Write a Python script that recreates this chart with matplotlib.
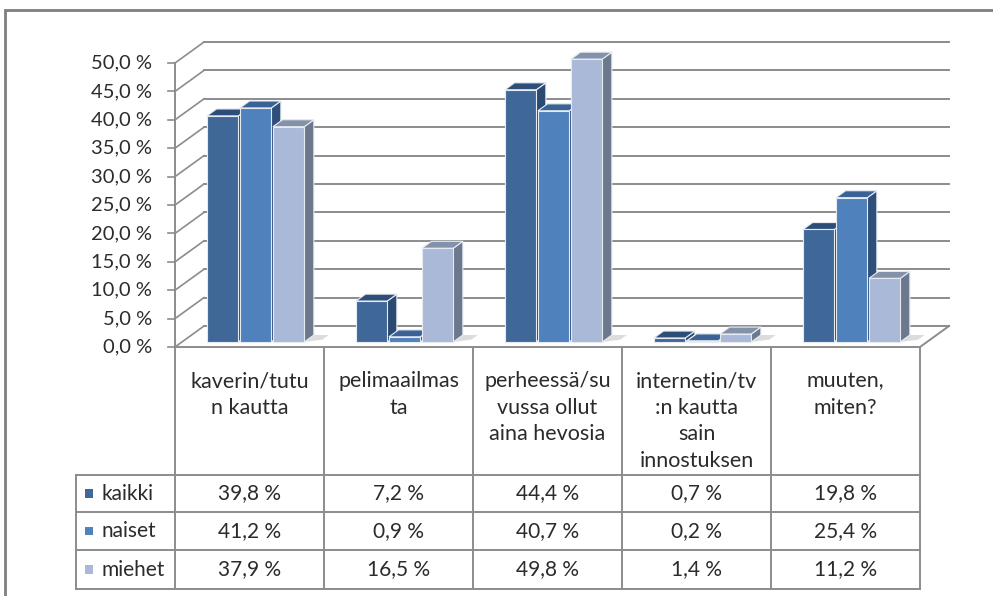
import matplotlib.pyplot as plt
from matplotlib.patches import Polygon, Rectangle
from matplotlib.lines import Line2D

categories = ['kaverin/tutu\nn kautta', 'pelimaailmas\nta', 'perheessä/su\nvussa ollut\naina hevosia',
              'internetin/tv\n:n kautta\nsain\ninnostuksen', 'muuten,\nmiten?']
series = ['kaikki', 'naiset', 'miehet']
kaikki = [39.8, 7.2, 44.4, 0.7, 19.8]
naiset = [41.2, 0.9, 40.7, 0.2, 25.4]
miehet = [37.9, 16.5, 49.8, 1.4, 11.2]
yticks = [0, 5, 10, 15, 20, 25, 30, 35, 40, 45, 50]

values = [kaikki, naiset, miehet]
front_cols = ['#3F6899', '#4F81BD', '#AAB9D7']
top_cols = ['#2D4E79', '#3A6294', '#8391AB']
side_cols = ['#2B4A72', '#2F4F7B', '#6C788D']

plt.rcParams['font.family'] = ['Lato', 'DejaVu Sans']
txt = '#2b2b2b'
grid = '#8c8c8c'

fig = plt.figure(figsize=(9.93, 5.96), dpi=100)
ax = fig.add_axes([175 / 993, 249 / 596, 745 / 993, 284 / 596])
ax.set_xlim(0, 5)
ax.set_ylim(0, 50)
ax.axis('off')

# depth of the 3d box, in data units
DX, DY = 0.195, 3.7
z0, z1 = 0.24, 0.57
pitch, width = 0.2215, 0.21
start = 0.5 - 1.5 * pitch

# outer frame
fig.add_artist(Rectangle((5 / 993, -0.05), 1.2, (586 / 596) + 0.05, transform=fig.transFigure,
                         fill=False, ec='#7f7f7f', lw=2))

# back wall gridlines and side diagonals
for v in yticks:
    ax.add_line(Line2D([DX, 5 + DX], [v + DY, v + DY], color=grid, lw=1.4, clip_on=False))
    ax.add_line(Line2D([0, DX], [v, v + DY], color=grid, lw=1.2, clip_on=False))
    ax.add_line(Line2D([-0.045, 0], [v, v], color=grid, lw=1.2, clip_on=False))
    ax.text(-0.155, v, f'{v:.1f} %'.replace('.', ','), ha='right', va='center',
            fontsize=14.5, color=txt)
ax.add_line(Line2D([0, 0], [0, 50], color=grid, lw=1.4, clip_on=False))
ax.add_line(Line2D([0, 5, 5 + DX], [0, 0, DY], color=grid, lw=1.4, clip_on=False))

# bars
for i in range(len(categories)):
    for j, vals in enumerate(values):
        v = vals[i]
        x0 = i + start + j * pitch + z0 * DX
        y0 = z0 * DY
        x1 = x0 + width
        ddx, ddy = (z1 - z0) * DX, (z1 - z0) * DY
        zo = 3 + j
        # soft shadow on the floor
        ax.add_patch(Polygon([(x1, y0), (x1 + 0.12, y0 + 0.4), (x1 + ddx + 0.1, y0 + ddy),
                              (x1 + ddx, y0 + ddy)], fc='#dcdcdc', ec='none', zorder=2,
                             clip_on=False))
        side = Polygon([(x1, y0), (x1 + ddx, y0 + ddy), (x1 + ddx, y0 + ddy + v), (x1, y0 + v)],
                       fc=side_cols[j], ec='#e6ebf2', lw=0.8, zorder=zo, clip_on=False)
        top = Polygon([(x0, y0 + v), (x1, y0 + v), (x1 + ddx, y0 + v + ddy), (x0 + ddx, y0 + v + ddy)],
                      fc=top_cols[j], ec='#e6ebf2', lw=0.8, zorder=zo, clip_on=False)
        front = Rectangle((x0, y0), width, v, fc=front_cols[j], ec='#e6ebf2', lw=0.8,
                          zorder=zo, clip_on=False)
        ax.add_patch(side)
        ax.add_patch(top)
        ax.add_patch(front)

# data table below the chart
def py(p):
    return (347 - p) / 5.68

left = (76 - 175) / 149
row_lines = [py(475), py(512), py(550), py(589)]
for k in range(len(categories) + 1):
    ax.add_line(Line2D([k, k], [0, row_lines[-1]], color=grid, lw=1.4, clip_on=False))
ax.add_line(Line2D([left, left], [row_lines[0], row_lines[-1]], color=grid, lw=1.4, clip_on=False))
for y in row_lines:
    ax.add_line(Line2D([left, 5], [y, y], color=grid, lw=1.4, clip_on=False))

for i, c in enumerate(categories):
    ax.text(i + 0.5, py(371), c, ha='center', va='top', fontsize=15.5, color=txt,
            linespacing=1.42)

for j, (name, vals) in enumerate(zip(series, values)):
    yc = (row_lines[j] + row_lines[j + 1]) / 2
    ax.add_patch(Rectangle((left + 0.06, yc - 0.75), 0.052, 1.5, fc=front_cols[j], ec='none',
                           clip_on=False))
    ax.text(left + 0.17, yc, name, ha='left', va='center', fontsize=15, color=txt)
    for i, v in enumerate(vals):
        ax.text(i + 0.5, yc, f'{v:.1f} %'.replace('.', ','), ha='center', va='center',
                fontsize=15, color=txt)

fig.savefig('out.png', dpi=100)
